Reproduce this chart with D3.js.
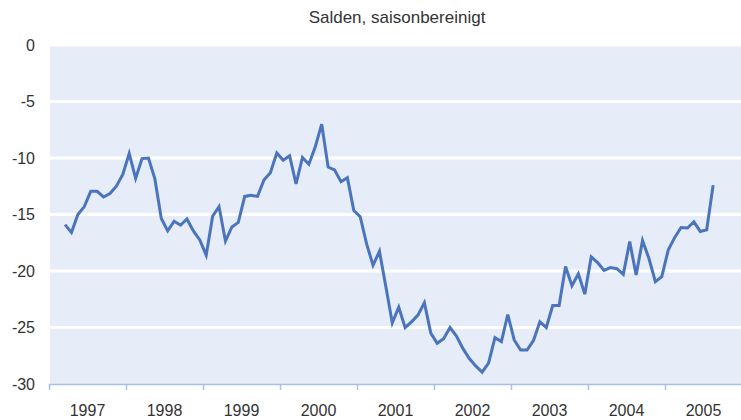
<!DOCTYPE html>
<html>
<head>
<meta charset="utf-8">
<script src="https://cdn.jsdelivr.net/npm/d3@7"></script>
<style>
  html, body { margin: 0; padding: 0; background: #fff; }
  svg { display: block; font-family: "Liberation Sans", Arial, sans-serif; }
</style>
</head>
<body>
<svg id="chart" width="741" height="420"></svg>
<script>
// Monthly balances, seasonally adjusted, Mar 1997 .. Aug 2005
const startMonth = 2; // months after Jan 1997 (March 1997)
const values = [
  -15.9, -16.6, -15.0, -14.3, -12.95, -12.95, -13.45, -13.15, -12.5, -11.45,
  -9.6, -11.8, -10.05, -10.0, -11.85, -15.35, -16.45, -15.6, -15.95, -15.4,
  -16.45, -17.25, -18.6, -15.15, -14.3, -17.35, -16.1, -15.7, -13.4, -13.3,
  -13.4, -11.95, -11.3, -9.55, -10.2, -9.8, -12.3, -9.95, -10.55, -9.0,
  -7.0, -10.8, -11.05, -12.1, -11.75, -14.65, -15.2, -17.6, -19.5, -18.25,
  -21.4, -24.6, -23.2, -25.0, -24.5, -23.9, -22.8, -25.5, -26.4, -26.0,
  -25.0, -25.75, -26.85, -27.75, -28.4, -28.95, -28.15, -25.9, -26.25, -23.85,
  -26.1, -27.0, -27.0, -26.15, -24.5, -25.0, -23.05, -23.05, -19.6, -21.3,
  -20.25, -22.05, -18.75, -19.25, -19.95, -19.7, -19.8, -20.3, -17.4, -20.35,
  -17.3, -18.9, -20.95, -20.5, -18.15, -17.05, -16.15, -16.2, -15.65, -16.5,
  -16.35, -12.4
];
const years = ["1997", "1998", "1999", "2000", "2001", "2002", "2003", "2004", "2005"];
const yTicks = [0, -5, -10, -15, -20, -25, -30];
const title = "Salden, saisonbereinigt";

const svg = d3.select("#chart");
const mLeft = 49, mRight = 742, mTop = 45, mBottom = 384;

const x = d3.scaleLinear().domain([0, years.length * 12]).range([mLeft, mRight]);
const y = d3.scaleLinear().domain([-30, 0]).range([mBottom, mTop]);

// plot background
svg.append("rect")
  .attr("x", mLeft + 1).attr("y", mTop)
  .attr("width", 741 - mLeft - 1).attr("height", mBottom - mTop)
  .attr("fill", "#E6ECF8");

// gridlines
svg.append("g").selectAll("line")
  .data(yTicks.filter(d => d !== -30))
  .join("line")
  .attr("x1", mLeft + 1).attr("x2", 741)
  .attr("y1", d => y(d)).attr("y2", d => y(d))
  .attr("stroke", "#fff").attr("stroke-width", 3);

// y labels
svg.append("g").selectAll("text")
  .data(yTicks)
  .join("text")
  .attr("x", 35).attr("y", d => y(d))
  .attr("dy", "0.36em")
  .attr("text-anchor", "end")
  .attr("font-size", 16)
  .attr("fill", "#333")
  .text(d => String(d));

// x axis with year boundary ticks
const xAxis = d3.axisBottom(x)
  .tickValues(d3.range(0, years.length * 12 + 1, 12))
  .tickSize(6)
  .tickFormat("");
const gx = svg.append("g")
  .attr("transform", `translate(0,${mBottom})`)
  .call(xAxis);
gx.select(".domain").attr("stroke", "#A9C1E8").attr("stroke-width", 1.5)
  .attr("d", `M${mLeft},0.5H741`);
gx.selectAll(".tick line").attr("stroke", "#A9C1E8").attr("stroke-width", 1.5);

// year labels
svg.append("g").selectAll("text")
  .data(years)
  .join("text")
  .attr("x", (d, i) => x(i * 12 + 6))
  .attr("y", 416)
  .attr("text-anchor", "middle")
  .attr("font-size", 16)
  .attr("fill", "#333")
  .text(d => d);

// line
const line = d3.line()
  .x((d, i) => x(startMonth + i + 0.5))
  .y(d => y(d));
svg.append("path")
  .datum(values)
  .attr("d", line)
  .attr("fill", "none")
  .attr("stroke", "#4A74BC")
  .attr("stroke-width", 3)
  .attr("stroke-linejoin", "miter");

// title
svg.append("text")
  .attr("x", 397).attr("y", 23)
  .attr("text-anchor", "middle")
  .attr("font-size", 17)
  .attr("fill", "#333")
  .text(title);
</script>
</body>
</html>
